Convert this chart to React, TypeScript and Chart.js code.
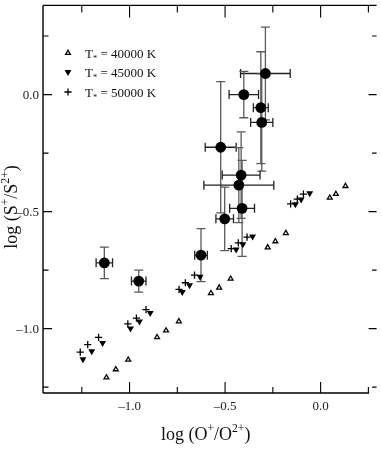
import React, { useEffect, useRef } from 'react';
import { Chart, registerables } from 'chart.js';

Chart.register(...registerables);

// Observed points: log(O+/O2+), log(S+/S2+) and their errors
const obsX = [-0.289, -0.402, -0.313, -0.308, -0.523, -0.416, -0.428, -0.411, -0.502, -1.132, -0.952, -0.626];
const obsY = [0.090, 0.0, -0.056, -0.119, -0.225, -0.344, -0.387, -0.486, -0.531, -0.719, -0.797, -0.686];
const obsXErr = [0.13, 0.077, 0.039, 0.058, 0.081, 0.099, 0.183, 0.065, 0.046, 0.043, 0.038, 0.033];
const obsYErr = [0.198, 0.099, 0.239, 0.208, 0.28, 0.185, 0.16, 0.205, 0.136, 0.067, 0.047, 0.113];

// Models
const t40X = [-1.121, -1.072, -1.007, -0.856, -0.809, -0.742, -0.574, -0.531, -0.471, -0.277, -0.237, -0.182, 0.048, 0.080, 0.130];
const t40Y = [-1.209, -1.174, -1.133, -1.037, -1.008, -0.969, -0.849, -0.825, -0.787, -0.653, -0.627, -0.592, -0.441, -0.425, -0.391];
const t45X = [-1.244, -1.198, -1.141, -0.995, -0.948, -0.892, -0.724, -0.686, -0.631, -0.442, -0.407, -0.356, -0.132, -0.102, -0.057];
const t45Y = [-1.131, -1.097, -1.061, -0.999, -0.970, -0.933, -0.843, -0.815, -0.778, -0.662, -0.639, -0.606, -0.469, -0.448, -0.422];
const t50X = [-1.258, -1.219, -1.162, -1.009, -0.964, -0.914, -0.741, -0.708, -0.660, -0.468, -0.431, -0.385, -0.157, -0.122, -0.090];
const t50Y = [-1.100, -1.068, -1.037, -0.980, -0.955, -0.919, -0.832, -0.804, -0.771, -0.658, -0.634, -0.609, -0.467, -0.447, -0.425];

const legendLabels = ['40000 K', '45000 K', '50000 K'];

const xMajorTicks = [-1.0, -0.5, 0.0];
const xMinorTicks = [-1.25, -0.75, -0.25, 0.25];
const yMajorTicks = [0.0, -0.5, -1.0];
const yMinorTicks = [0.25, -0.25, -0.75, -1.25];
const xTickLabels = ['\u20131.0', '\u20130.5', '0.0'];
const yTickLabels = ['0.0', '\u20130.5', '\u20131.0'];

const FONT = '"Liberation Serif", "Times New Roman", serif';

type Part = { t: string; sup?: boolean; sub?: boolean };

function richWidth(ctx: CanvasRenderingContext2D, parts: Part[], size: number) {
  let w = 0;
  for (const p of parts) {
    const s = p.sup || p.sub ? size * 0.65 : size;
    ctx.font = `${s}px ${FONT}`;
    w += ctx.measureText(p.t).width;
  }
  return w;
}

function drawRich(ctx: CanvasRenderingContext2D, parts: Part[], x: number, y: number, size: number, align: 'left' | 'center') {
  const total = richWidth(ctx, parts, size);
  let cx = align === 'center' ? x - total / 2 : x;
  ctx.textAlign = 'left';
  ctx.textBaseline = 'alphabetic';
  for (const p of parts) {
    const s = p.sup || p.sub ? size * 0.65 : size;
    ctx.font = `${s}px ${FONT}`;
    const dy = p.sup ? -size * 0.42 : p.sub ? size * 0.28 : 0;
    ctx.fillText(p.t, cx, y + dy);
    cx += ctx.measureText(p.t).width;
  }
}

function drawMarker(ctx: CanvasRenderingContext2D, kind: string, x: number, y: number) {
  ctx.save();
  ctx.strokeStyle = '#000';
  ctx.fillStyle = '#000';
  ctx.lineWidth = 1.3;
  if (kind === 'up') {
    const r = 2.8;
    ctx.beginPath();
    ctx.moveTo(x, y - r);
    ctx.lineTo(x + r * 0.866, y + r * 0.5);
    ctx.lineTo(x - r * 0.866, y + r * 0.5);
    ctx.closePath();
    ctx.fillStyle = '#fff';
    ctx.fill();
    ctx.stroke();
  } else if (kind === 'down') {
    const r = 4;
    ctx.beginPath();
    ctx.moveTo(x, y + r);
    ctx.lineTo(x + r * 0.866, y - r * 0.5);
    ctx.lineTo(x - r * 0.866, y - r * 0.5);
    ctx.closePath();
    ctx.fill();
  } else {
    const r = 3.6;
    ctx.beginPath();
    ctx.moveTo(x - r, y);
    ctx.lineTo(x + r, y);
    ctx.moveTo(x, y - r);
    ctx.lineTo(x, y + r);
    ctx.stroke();
  }
  ctx.restore();
}

const decorPlugin = {
  id: 'decor',
  beforeDatasetsDraw(chart: any) {
    const { ctx, scales } = chart;
    const xs = scales.x;
    const ys = scales.y;
    ctx.save();
    const cap = 4.5;
    for (let i = 0; i < obsX.length; i++) {
      const px = xs.getPixelForValue(obsX[i]);
      const py = ys.getPixelForValue(obsY[i]);
      const x0 = xs.getPixelForValue(obsX[i] - obsXErr[i]);
      const x1 = xs.getPixelForValue(obsX[i] + obsXErr[i]);
      const y0 = ys.getPixelForValue(obsY[i] + obsYErr[i]);
      const y1 = ys.getPixelForValue(obsY[i] - obsYErr[i]);
      ctx.lineWidth = 1.3;
      ctx.strokeStyle = '#5a5a5a';
      ctx.beginPath();
      ctx.moveTo(px, y0); ctx.lineTo(px, y1);
      ctx.moveTo(px - cap, y0); ctx.lineTo(px + cap, y0);
      ctx.moveTo(px - cap, y1); ctx.lineTo(px + cap, y1);
      ctx.stroke();
      ctx.strokeStyle = '#222';
      ctx.beginPath();
      ctx.moveTo(x0, py); ctx.lineTo(x1, py);
      ctx.moveTo(x0, py - cap); ctx.lineTo(x0, py + cap);
      ctx.moveTo(x1, py - cap); ctx.lineTo(x1, py + cap);
      ctx.stroke();
    }
    ctx.restore();
  },
  afterDraw(chart: any) {
    const { ctx, chartArea, scales } = chart;
    const { left, right, top, bottom } = chartArea;
    const xs = scales.x;
    const ys = scales.y;
    ctx.save();
    ctx.strokeStyle = '#000';
    ctx.lineWidth = 1.4;
    ctx.beginPath();
    ctx.moveTo(left, top); ctx.lineTo(right, top);
    ctx.moveTo(left, top); ctx.lineTo(left, bottom);
    ctx.moveTo(left, bottom); ctx.lineTo(xs.getPixelForValue(0.25) + 0.7, bottom);
    ctx.stroke();

    ctx.lineWidth = 1.1;
    ctx.beginPath();
    const tickX = (v: number, len: number, lenTop: number) => {
      const p = xs.getPixelForValue(v);
      ctx.moveTo(p, bottom); ctx.lineTo(p, bottom - len);
      ctx.moveTo(p, top); ctx.lineTo(p, top + lenTop);
    };
    xMajorTicks.forEach(v => tickX(v, 11, 12));
    xMinorTicks.forEach(v => tickX(v, 6, 7));
    const tickY = (v: number, len: number, lenR: number) => {
      const p = ys.getPixelForValue(v);
      ctx.moveTo(left, p); ctx.lineTo(left + len, p);
      ctx.moveTo(right, p); ctx.lineTo(right - lenR, p);
    };
    yMajorTicks.forEach(v => tickY(v, 9, 8));
    yMinorTicks.forEach(v => tickY(v, 5.5, 4.5));
    ctx.stroke();

    // tick labels
    ctx.fillStyle = '#222';
    ctx.font = `13px ${FONT}`;
    ctx.textAlign = 'center';
    ctx.textBaseline = 'middle';
    xMajorTicks.forEach((v, i) => {
      ctx.fillText(xTickLabels[i], xs.getPixelForValue(v), bottom + 14);
    });
    ctx.textAlign = 'right';
    yMajorTicks.forEach((v, i) => {
      ctx.fillText(yTickLabels[i], left - 4, ys.getPixelForValue(v) + 1);
    });

    // axis titles
    ctx.fillStyle = '#111';
    drawRich(ctx, [{ t: 'log (O' }, { t: '+', sup: true }, { t: '/O' }, { t: '2+', sup: true }, { t: ')' }],
      (left + xs.getPixelForValue(0.25)) / 2, 440, 18, 'center');
    ctx.save();
    ctx.translate(17, 207);
    ctx.rotate(-Math.PI / 2);
    drawRich(ctx, [{ t: 'log (S' }, { t: '+', sup: true }, { t: '/S' }, { t: '2+', sup: true }, { t: ')' }],
      0, 0, 18, 'center');
    ctx.restore();

    // legend
    const kinds = ['up', 'down', 'plus'];
    const rowY = [53, 72, 92];
    kinds.forEach((k, i) => {
      drawMarker(ctx, k, 68, rowY[i]);
      ctx.fillStyle = '#111';
      drawRich(ctx, [{ t: 'T' }, { t: '*', sub: true }, { t: ' = ' + legendLabels[i] }], 85, rowY[i] + 4.5, 13, 'left');
    });
    ctx.restore();
  },
};

export default function App() {
  const ref = useRef<HTMLCanvasElement | null>(null);
  useEffect(() => {
    document.body.style.margin = '0';
    const canvas = ref.current;
    if (!canvas) return;
    const toPts = (xs: number[], ys: number[]) => xs.map((x, i) => ({ x, y: ys[i] }));
    const chart = new Chart(canvas, {
      type: 'scatter',
      data: {
        datasets: [
          {
            label: 'T* = 40000 K',
            data: toPts(t40X, t40Y),
            pointStyle: 'triangle',
            pointRadius: 2.8,
            backgroundColor: '#fff',
            borderColor: '#000',
            borderWidth: 1.3,
          },
          {
            label: 'T* = 45000 K',
            data: toPts(t45X, t45Y),
            pointStyle: 'triangle',
            rotation: 180,
            pointRadius: 4,
            backgroundColor: '#000',
            borderColor: '#000',
            borderWidth: 0,
          },
          {
            label: 'T* = 50000 K',
            data: toPts(t50X, t50Y),
            pointStyle: 'cross',
            pointRadius: 3.6,
            backgroundColor: '#000',
            borderColor: '#000',
            borderWidth: 1.3,
          },
          {
            label: 'observed',
            data: toPts(obsX, obsY),
            pointStyle: 'circle',
            pointRadius: 5.4,
            backgroundColor: '#000',
            borderColor: '#000',
            borderWidth: 0,
          },
        ],
      },
      options: {
        responsive: false,
        animation: false,
        devicePixelRatio: 1,
        layout: { padding: { left: 43, right: 1, top: 2, bottom: 59 } },
        plugins: { legend: { display: false }, tooltip: { enabled: false } },
        scales: {
          x: { type: 'linear', min: -1.453, max: 0.293, display: false },
          y: { type: 'linear', min: -1.275, max: 0.381, display: false },
        },
      },
      plugins: [decorPlugin],
    });
    return () => chart.destroy();
  }, []);
  return (
    <div style={{ width: 382, height: 452, background: '#fff' }}>
      <canvas ref={ref} width={382} height={452} style={{ display: 'block' }} />
    </div>
  );
}
